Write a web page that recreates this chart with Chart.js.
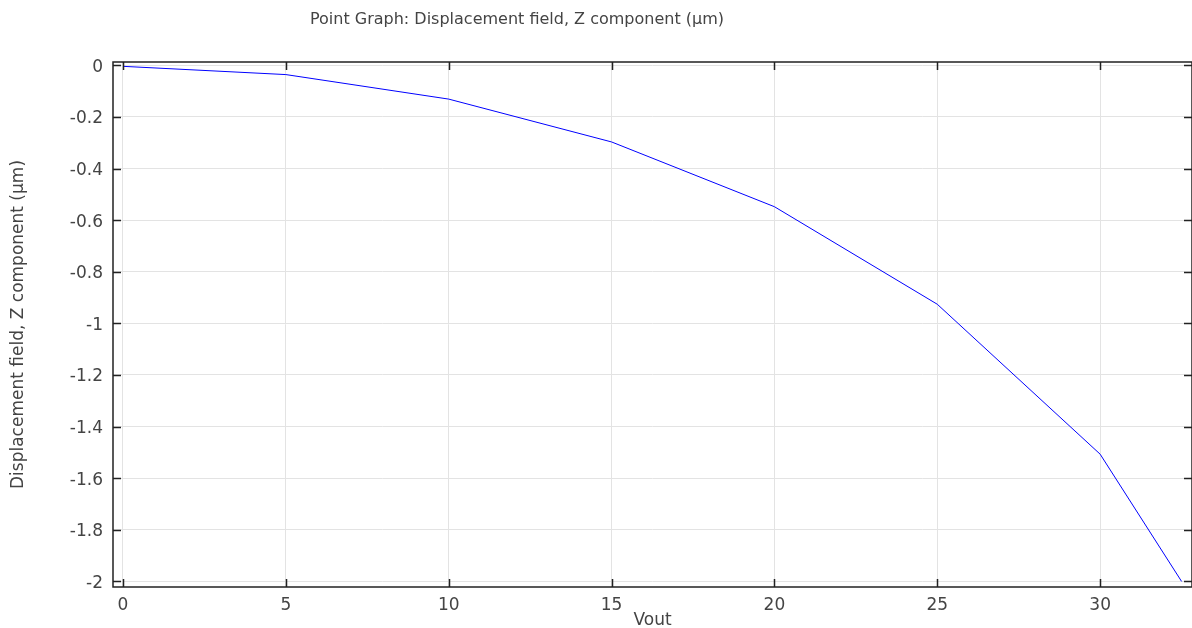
<!DOCTYPE html>
<html>
<head>
<meta charset="utf-8">
<script src="https://cdn.jsdelivr.net/npm/chart.js@4.4.1/dist/chart.umd.min.js"></script>
<style>
  html, body { margin: 0; padding: 0; background: #fff; }
  canvas { display: block; }
</style>
</head>
<body>
<canvas id="chart" width="1192" height="628"></canvas>
<script>
// Vout sweep and the Z displacement at the probe point (µm)
const vout = [0, 5, 10, 15, 20, 25, 30, 32.5];
const dispZ = [-0.004, -0.036, -0.131, -0.297, -0.548, -0.926, -1.507, -2.0];

const xTicks = [0, 5, 10, 15, 20, 25, 30];
const yTicks = [0, -0.2, -0.4, -0.6, -0.8, -1, -1.2, -1.4, -1.6, -1.8, -2];

const titleText = "Point Graph: Displacement field, Z component (µm)";
const font = "'DejaVu Sans', sans-serif";

// Box frame with inward tick marks on all four sides, plus the plot title
const framePlugin = {
  id: "frame",
  afterDraw(c) {
    const ctx = c.ctx;
    const { left, right, top, bottom } = c.chartArea;
    const xs = c.scales.x, ys = c.scales.y;
    const tl = 8;
    ctx.save();
    ctx.strokeStyle = "#222";
    ctx.lineWidth = 1.5;
    ctx.strokeRect(left, top, right - left, bottom - top);
    ctx.beginPath();
    xTicks.forEach((v) => {
      const px = Math.round(xs.getPixelForValue(v)) + 0.5;
      ctx.moveTo(px, bottom); ctx.lineTo(px, bottom - tl);
      ctx.moveTo(px, top); ctx.lineTo(px, top + tl);
    });
    yTicks.forEach((v) => {
      const py = Math.round(ys.getPixelForValue(v)) + 0.5;
      ctx.moveTo(left, py); ctx.lineTo(left + tl, py);
      ctx.moveTo(right, py); ctx.lineTo(right - tl, py);
    });
    ctx.stroke();

    ctx.fillStyle = "#444";
    ctx.font = "16px " + font;
    ctx.textAlign = "center";
    ctx.textBaseline = "middle";
    ctx.fillText(titleText, 517, 20);
    ctx.restore();
  },
};

const ctx = document.querySelector("#chart").getContext("2d");

new Chart(ctx, {
  type: "line",
  data: {
    datasets: [
      {
        label: "Displacement field, Z component",
        data: vout.map((v, i) => ({ x: v, y: dispZ[i] })),
        borderColor: "#0000ff",
        borderWidth: 1,
        pointRadius: 0,
        tension: 0,
        fill: false,
      },
    ],
  },
  options: {
    responsive: false,
    animation: false,
    events: [],
    layout: { padding: { top: 62, right: 0, left: 0, bottom: 0 } },
    plugins: {
      legend: { display: false },
      tooltip: { enabled: false },
      title: { display: false },
    },
    scales: {
      x: {
        type: "linear",
        min: -0.307,
        max: 32.82,
        afterBuildTicks: (s) => { s.ticks = xTicks.map((v) => ({ value: v })); },
        afterFit: (s) => { s.height = 41; },
        grid: { color: "#e3e3e3", lineWidth: 1, drawTicks: false },
        border: { display: false },
        ticks: {
          color: "#444",
          font: { family: font, size: 17 },
          padding: 8,
          maxRotation: 0,
          autoSkip: false,
        },
        title: {
          display: true,
          text: "Vout",
          color: "#444",
          font: { family: font, size: 17 },
          padding: { top: 0, bottom: -3 },
        },
      },
      y: {
        type: "linear",
        min: -2.0217,
        max: 0.0128,
        afterBuildTicks: (s) => { s.ticks = yTicks.map((v) => ({ value: v })); },
        afterFit: (s) => { s.width = 113; },
        grid: { color: "#e3e3e3", lineWidth: 1, drawTicks: false },
        border: { display: false },
        ticks: {
          color: "#444",
          font: { family: font, size: 17 },
          padding: 10,
          labelOffset: 2,
          autoSkip: false,
          callback: (v) => String(Math.round(v * 10) / 10),
        },
        title: {
          display: true,
          text: "Displacement field, Z component (µm)",
          color: "#444",
          font: { family: font, size: 17 },
          padding: { top: 8, bottom: 0 },
        },
      },
    },
  },
  plugins: [framePlugin],
});
</script>
</body>
</html>
